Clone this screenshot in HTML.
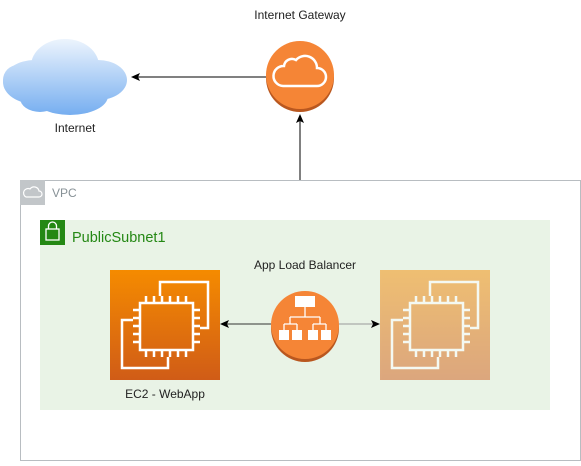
<!DOCTYPE html>
<html><head><meta charset="utf-8"><style>
html,body{margin:0;padding:0;background:#fff;}
body{width:581px;height:461px;overflow:hidden;font-family:"Liberation Sans",Arial,sans-serif;}
</style></head><body>
<svg width="581" height="461" viewBox="0 0 581 461" xmlns="http://www.w3.org/2000/svg" font-family="Liberation Sans, Arial, sans-serif">
<defs>
<linearGradient id="cl" gradientUnits="userSpaceOnUse" x1="0" y1="38" x2="0" y2="115"><stop offset="0" stop-color="#eef5fd"/><stop offset="1" stop-color="#76aef0"/></linearGradient>
<linearGradient id="ec" x1="0" y1="0" x2="0" y2="1"><stop offset="0" stop-color="#f58b00"/><stop offset="1" stop-color="#d05c17"/></linearGradient>
<g id="chip" fill="none" stroke="#fff" stroke-width="2.5">
<rect x="30" y="33" width="53" height="47"/>
<path d="M36 26v7M44 26v7M52 26v7M60 26v7M68 26v7M76 26v7M36 80v7M44 80v7M52 80v7M60 80v7M68 80v7M76 80v7M23 40h7M23 48h7M23 56h7M23 64h7M23 72h7M83 40h7M83 48h7M83 56h7M83 64h7M83 72h7"/>
<path d="M50 26V12h48v46H90"/>
<path d="M23 50H12v48h46V87"/>
</g>
</defs>
<!-- cloud -->
<g fill="url(#cl)">
<ellipse cx="35" cy="82" rx="32" ry="22"/><ellipse cx="65" cy="66" rx="34" ry="27"/><ellipse cx="98" cy="80" rx="29" ry="20"/><ellipse cx="70" cy="96" rx="38" ry="19"/><ellipse cx="18" cy="80" rx="15" ry="15"/><ellipse cx="40" cy="98" rx="20" ry="14"/>
</g>
<text x="75" y="132" font-size="12" text-anchor="middle" fill="#222">Internet</text>
<text x="300" y="19" font-size="12" text-anchor="middle" fill="#222">Internet Gateway</text>
<!-- IGW -->
<circle cx="300" cy="78" r="34" fill="#b9571f"/>
<circle cx="300" cy="75" r="34" fill="#f58536"/>
<path d="M283 86h34a9 9 0 0 0 0-18 12 12 0 0 0-21-8 8 8 0 0 0-12 6 10 10 0 0 0-1 20z" fill="none" stroke="#fff" stroke-width="2.5"/>
<!-- arrows -->
<line x1="266" y1="77" x2="137" y2="77" stroke="#000" stroke-width="1"/>
<path d="M131 77l9-4-2 4 2 4z" fill="#000"/>
<line x1="300" y1="180" x2="300" y2="120" stroke="#000"/>
<path d="M300 114l4 9-4-2-4 2z" fill="#000"/>
<!-- VPC -->
<rect x="20.5" y="180.5" width="560" height="280" fill="#fff" stroke="#b8bdc1"/>
<rect x="20" y="180" width="25" height="25" fill="#c2c6c9"/>
<path d="M26 197h13a3 3 0 0 0 0-6 5 5 0 0 0-9-2 4 4 0 0 0-4 8z" fill="none" stroke="#fff" stroke-width="1.2"/>
<text x="52" y="197" font-size="12" fill="#879196">VPC</text>
<!-- subnet -->
<rect x="40" y="220" width="510" height="190" fill="#e9f3e6"/>
<rect x="40" y="220" width="25" height="25" fill="#248814"/>
<rect x="46" y="229" width="13" height="11" fill="none" stroke="#fff" stroke-width="1.3"/>
<path d="M48.5 229v-3a4 4 0 0 1 8 0v3" fill="none" stroke="#fff" stroke-width="1.3"/>
<text x="72" y="242" font-size="14.5" fill="#248814">PublicSubnet1</text>
<text x="305" y="269" font-size="12" text-anchor="middle" fill="#222">App Load Balancer</text>
<!-- EC2 left -->
<rect x="110" y="270" width="110" height="110" fill="url(#ec)"/>
<g transform="translate(110,270)"><use href="#chip"/></g>
<!-- EC2 right -->
<g opacity="0.5">
<rect x="380" y="270" width="110" height="110" fill="url(#ec)"/>
<g transform="translate(380,270)"><use href="#chip"/></g>
</g>
<text x="165" y="398" font-size="12" text-anchor="middle" fill="#222">EC2 - WebApp</text>
<!-- ALB arrows -->
<line x1="271" y1="324" x2="226" y2="324" stroke="#333"/>
<path d="M220 324l9-4-2 4 2 4z" fill="#000"/>
<line x1="339" y1="324" x2="374" y2="324" stroke="#999"/>
<path d="M380 324l-9-4 2 4-2 4z" fill="#000"/>
<!-- ALB -->
<circle cx="305" cy="328" r="34" fill="#b9571f"/>
<circle cx="305" cy="325" r="34" fill="#f58536"/>
<g fill="#fff">
<rect x="295" y="296" width="20" height="11"/>
<rect x="279" y="330" width="10" height="10"/><rect x="292" y="330" width="10" height="10"/><rect x="308" y="330" width="10" height="10"/><rect x="321" y="330" width="10" height="10"/>
</g>
<path d="M305 307v10M290 317h30M290 317v7M320 317v7M284 324h13M313 324h13M284 324v6M297 324v6M313 324v6M326 324v6" stroke="#fff" stroke-width="1.3" fill="none"/>
</svg>
</body></html>
